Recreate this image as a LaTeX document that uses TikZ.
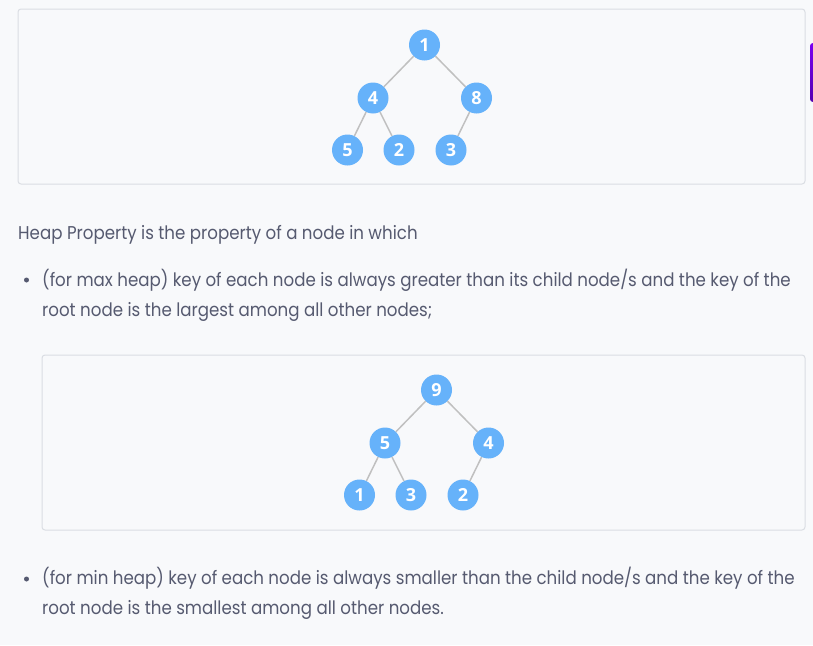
\documentclass[tikz,border=0pt]{standalone}
\usepackage{xcolor}
\usepackage{fontspec}
\setmainfont{Poppins}[FakeStretch=0.90]
\newfontfamily\keyfont{Open Sans}
\usetikzlibrary{positioning}

\definecolor{pagebg}{RGB}{248,249,251}
\definecolor{boxline}{RGB}{218,221,227}
\definecolor{keyblue}{RGB}{102,178,250}
\definecolor{edgegray}{RGB}{192,192,192}
\definecolor{bodytext}{RGB}{86,90,112}
\definecolor{barhigh}{RGB}{122,0,240}
\definecolor{barlow}{RGB}{84,0,176}

\tikzset{
  key/.style={circle, fill=keyblue, text=white, minimum size=31pt, inner sep=0pt,
    font=\keyfont\bfseries\fontsize{18}{18}\selectfont},
  edge/.style={draw=edgegray, line width=1.5pt},
  frame/.style={draw=boxline, fill=pagebg, line width=1pt, rounded corners=3pt},
  body/.style={anchor=base west, inner sep=0pt, text=bodytext,
    font=\fontsize{18.5}{30}\selectfont},
  dot/.style={circle, fill=bodytext, minimum size=5pt, inner sep=0pt}
}

\begin{document}
\begin{tikzpicture}[x=1pt, y=-1pt]
				\useasboundingbox[fill=pagebg] (0,0) rectangle (813,645);
				
				% Frames
				\draw[frame] (18,9) rectangle (805,184);
				\draw[frame] (42,355) rectangle (805,530);
				
				% Side bar
				\shade[top color=barhigh, bottom color=barlow, rounded corners=3pt] (810,43) rectangle (818,102);
				
				% First tree
				\node[key] (a1) at (424.5,45) {1};
				\node[key] (a2) at (373,98) {4};
				\node[key] (a3) at (476.5,98) {8};
				\node[key] (a4) at (347.5,150) {5};
				\node[key] (a5) at (399,150) {2};
				\node[key] (a6) at (451,150) {3};
				\draw[edge] (a1) -- (a2);
				\draw[edge] (a1) -- (a3);
				\draw[edge] (a2) -- (a4);
				\draw[edge] (a2) -- (a5);
				\draw[edge] (a3) -- (a6);
				
				% Second tree
				\node[key] (b1) at (436.5,390) {9};
				\node[key] (b2) at (385,443) {5};
				\node[key] (b3) at (488.5,443) {4};
				\node[key] (b4) at (359.5,495) {1};
				\node[key] (b5) at (411,495) {3};
				\node[key] (b6) at (463,495) {2};
				\draw[edge] (b1) -- (b2);
				\draw[edge] (b1) -- (b3);
				\draw[edge] (b2) -- (b4);
				\draw[edge] (b2) -- (b5);
				\draw[edge] (b3) -- (b6);
				
				% Text
				\node[body] (t0) at (18,239.5) {Heap Property is the property of a node in which};
				\node[dot] (d1) at (26.5,280) {};
				\node[body] (t1) at (42,286) {(for max heap) key of each node is always greater than its child node/s and the key of the};
				\node[body] (t2) at (42,316) {root node is the largest among all other nodes;};
				\node[dot] (d2) at (26.5,579) {};
				\node[body] (t3) at (42,584.5) {(for min heap) key of each node is always smaller than the child node/s and the key of the};
				\node[body] (t4) at (42,614.5) {root node is the smallest among all other nodes.};
				
			\end{tikzpicture}
\end{document}
